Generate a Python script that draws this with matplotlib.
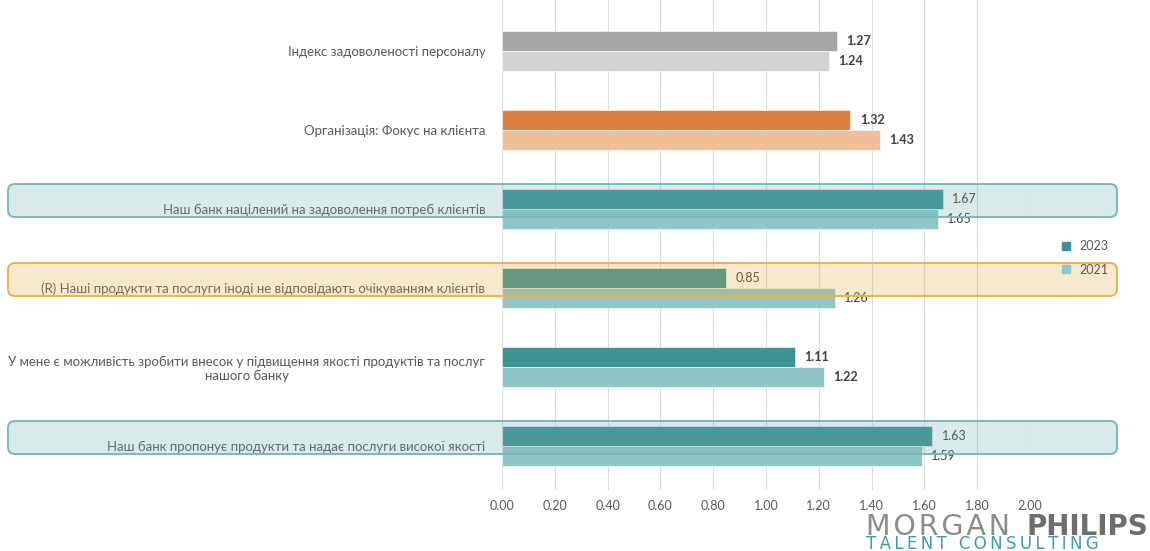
import numpy as np
import matplotlib
matplotlib.use("Agg")
import matplotlib.pyplot as plt
from matplotlib.patches import FancyBboxPatch
from matplotlib.lines import Line2D
from matplotlib.transforms import IdentityTransform

#:::: data ::::
categories = [
    "Індекс задоволеності персоналу",
    "Організація: Фокус на клієнта",
    "Наш банк націлений на задоволення потреб клієнтів",
    "(R) Наші продукти та послуги іноді не відповідають очікуванням клієнтів",
    "У мене є можливість зробити внесок у підвищення якості продуктів та послуг\nнашого банку",
    "Наш банк пропонує продукти та надає послуги високої якості",
]
vals_2023 = [1.27, 1.32, 1.67, 0.85, 1.11, 1.63]
vals_2021 = [1.24, 1.43, 1.65, 1.26, 1.22, 1.59]
years = ["2023", "2021"]
xticks = np.arange(0, 2.01, 0.2)

#:::: styles ::::
col_2023 = ["#a6a6a6", "#dc8040", "#3f9393", "#3f9393", "#3f9393", "#3f9393"]
col_2021 = ["#d3d3d3", "#eebf99", "#8fc6c6", "#8fc6c6", "#8fc6c6", "#8fc6c6"]
bold_lbl = [True, True, False, False, True, False]
boxed = {2: ("#6dabab", "#7ab8b8"), 3: ("#dea83e", "#f0b050"), 5: ("#6dabab", "#7ab8b8")}

W, H = 1150, 551
fig = plt.figure(figsize=(W / 100, H / 100), dpi=100)
ax = fig.add_axes([502 / W, 1 - 490 / H, (1030 - 502) / W, 490 / H])

y = np.arange(len(categories))
bh = 0.253
ax.barh(y - bh / 2, vals_2023, height=bh, color=col_2023, edgecolor="white", linewidth=0.4, zorder=2)
ax.barh(y + bh / 2, vals_2021, height=bh, color=col_2021, edgecolor="white", linewidth=0.4, zorder=2)

for i in range(len(categories)):
    w = "bold" if bold_lbl[i] else "normal"
    ax.text(vals_2023[i] + 0.035, y[i] - bh / 2, f"{vals_2023[i]:.2f}", va="center", ha="left",
            fontsize=9, color="#404040", fontweight=w, family="Lato")
    ax.text(vals_2021[i] + 0.035, y[i] + bh / 2, f"{vals_2021[i]:.2f}", va="center", ha="left",
            fontsize=9, color="#404040", fontweight=w, family="Lato")

ax.set_xlim(0, 2.0)
ax.set_ylim(5.557, -0.646)
ax.set_xticks(xticks)
ax.set_xticklabels([f"{t:.2f}" for t in xticks], fontsize=9, color="#595959", family="Lato")
ax.set_yticks(y)
ax.set_yticklabels(categories, fontsize=9.5, color="#595959", family="Lato", multialignment="center")
ax.tick_params(length=0, pad=12)
ax.tick_params(axis="x", pad=7)
ax.grid(axis="x", color="#dcdcdc", linewidth=0.8, zorder=0)
ax.set_axisbelow(True)
for s in ax.spines.values():
    s.set_visible(False)

# highlight boxes laid over the rows (pixel coordinates)
fig.canvas.draw()
for i, (fc, ec) in boxed.items():
    _, yc = ax.transData.transform((0, y[i]))
    yc = yc + 8.5
    box = FancyBboxPatch((8, yc - 16.5), 1109, 33, boxstyle="round,pad=0,rounding_size=7",
                         transform=IdentityTransform(), facecolor=fc, alpha=0.25,
                         edgecolor="none", zorder=5)
    fig.add_artist(box)
    edge = FancyBboxPatch((8, yc - 16.5), 1109, 33, boxstyle="round,pad=0,rounding_size=7",
                          transform=IdentityTransform(), facecolor="none",
                          edgecolor=ec, linewidth=1.4, zorder=6)
    fig.add_artist(edge)

handles = [Line2D([], [], marker="s", linestyle="none", markersize=6, color="#3f9393"),
           Line2D([], [], marker="s", linestyle="none", markersize=6, color="#8fc6c6")]
fig.legend(handles, years, loc="upper left", bbox_to_anchor=(1042 / W, 1 - 229 / H),
           frameon=False, handletextpad=0.1, labelspacing=0.9, prop={"family": "Lato", "size": 9},
           labelcolor="#595959")

# logo
fig.text(866 / W, 1 - 535 / H, "\u200a".join("MORGAN"), fontsize=20.5, color="#8c8c8c",
         family="DejaVu Sans", ha="left", va="baseline")
fig.text(1148 / W, 1 - 535 / H, "PHILIPS", fontsize=20, color="#6d6d6d", family="DejaVu Sans",
         fontweight="bold", ha="right", va="baseline")
fig.text(866 / W, 1 - 549 / H, "\u2009".join("TALENT CONSULTING"), fontsize=12, color="#3aa0a8",
         family="DejaVu Sans", ha="left", va="baseline")

fig.savefig("out.png", dpi=100)
